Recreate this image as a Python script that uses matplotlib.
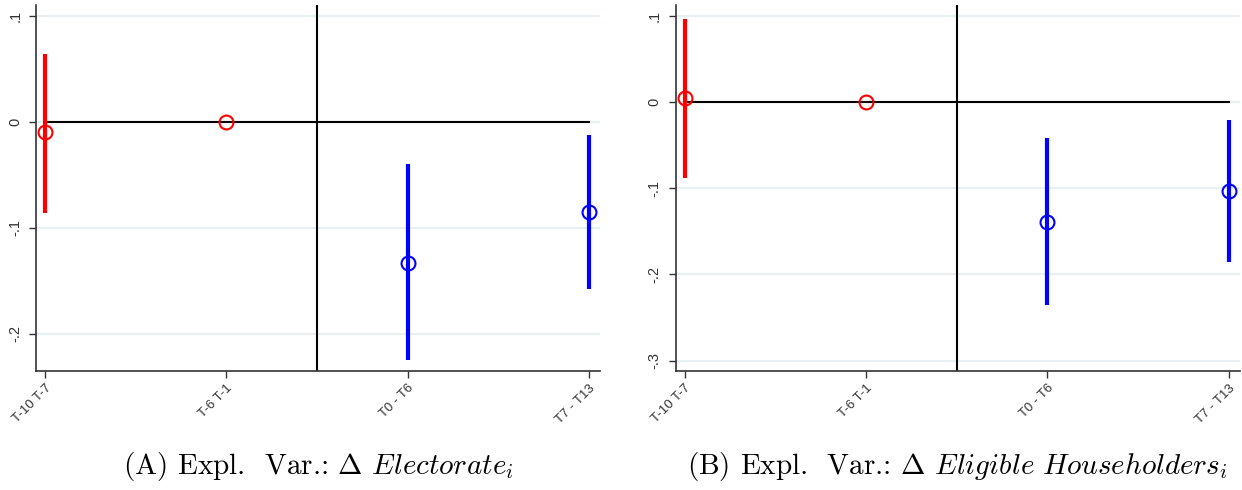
import matplotlib
matplotlib.use("Agg")
import matplotlib.pyplot as plt

# event-study coefficients with 95% confidence bounds
periods = ["T-10 T-7", "T-6 T-1", "T0 - T6", "T7 - T13"]
pos = [1, 2, 3, 4]

coef_a = [-0.010, 0.0, -0.133, -0.085]
lo_a = [-0.086, None, -0.225, -0.158]
hi_a = [0.064, None, -0.040, -0.013]

coef_b = [0.005, 0.0, -0.139, -0.103]
lo_b = [-0.088, None, -0.235, -0.186]
hi_b = [0.097, None, -0.041, -0.021]

colors = ["red", "red", "blue", "blue"]

plt.rcParams["mathtext.fontset"] = "cm"

fig = plt.figure(figsize=(12.42, 4.9), dpi=100)


def draw_panel(ax, coef, lo, hi, yticks, ylim, caption):
    for yt in yticks:
        ax.axhline(yt, color="#e8f0f2", lw=1.5, zorder=0)
    ax.plot([pos[0], pos[-1]], [0, 0], color="black", lw=1.5, zorder=1)
    ax.axvline(2.5, color="black", lw=1.5, zorder=1)
    for x, c, l, h, col in zip(pos, coef, lo, hi, colors):
        if l is not None:
            ax.plot([x, x], [l, h], color=col, lw=3, solid_capstyle="butt", zorder=2)
        ax.plot(x, c, marker="o", ms=10, mfc="none", mec=col, mew=1.5, zorder=3)
    ax.set_xlim(0.95, 4.06)
    ax.set_ylim(*ylim)
    ax.set_xticks(pos)
    ax.set_xticklabels(periods, rotation=45, ha="right", rotation_mode="anchor",
                       fontsize=9.5, family="Liberation Sans", color="#333333")
    ax.set_yticks(yticks)
    ax.set_yticklabels([("%.1f" % t).replace("0.", ".") if t != 0 else "0" for t in yticks],
                       rotation=90, va="center", fontsize=10.5, family="Liberation Sans",
                       color="#333333")
    ax.spines["top"].set_visible(False)
    ax.spines["right"].set_visible(False)
    for s in ("left", "bottom"):
        ax.spines[s].set_color("#333333")
        ax.spines[s].set_linewidth(1.2)
    ax.tick_params(axis="both", length=5, color="#333333", width=1)
    ax.tick_params(axis="y", pad=5)
    ax.tick_params(axis="x", pad=3)
    ax.text(0.5, -0.26, caption, transform=ax.transAxes, ha="center", va="center",
            fontsize=21, family="cmr10")


ax1 = fig.add_axes([0.029, 0.243, 0.454, 0.747])
draw_panel(ax1, coef_a, lo_a, hi_a, [-0.2, -0.1, 0, 0.1], (-0.235, 0.11),
           r"(A) Expl.  Var.: $\Delta$ $\mathit{Electorate}_i$")

ax2 = fig.add_axes([0.544, 0.243, 0.454, 0.747])
draw_panel(ax2, coef_b, lo_b, hi_b, [-0.3, -0.2, -0.1, 0, 0.1], (-0.312, 0.113),
           r"(B) Expl.  Var.: $\Delta$ $\mathit{Eligible\ Householders}_i$")

fig.savefig("out.png", dpi=100)
